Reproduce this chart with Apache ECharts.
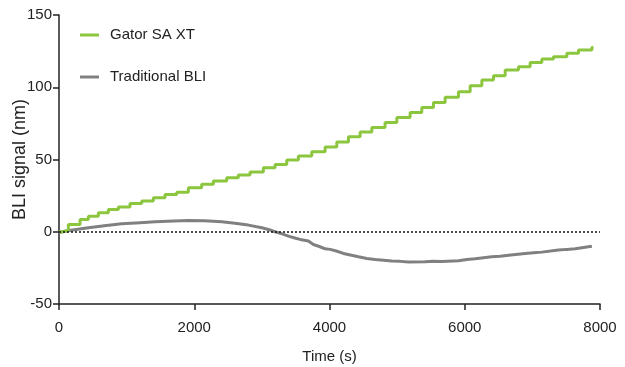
<!DOCTYPE html>
<html>
<head>
<meta charset="utf-8">
<script src="https://cdn.jsdelivr.net/npm/echarts@6/dist/echarts.min.js"></script>
<style>
  html, body { margin: 0; padding: 0; background: #fff; }
  #chart { width: 625px; height: 367px; }
</style>
</head>
<body>
<div id="chart"></div>
<script>
// values (time in s, signal in nm)
var gatorTime = [0, 40, 138, 311, 434, 582, 730, 878, 1050, 1223, 1395, 1568, 1741, 1913,
  2110, 2283, 2480, 2652, 2825, 3022, 3195, 3368, 3540, 3738, 3935,
  4108, 4280, 4453, 4626, 4822, 4996, 5192, 5365, 5537, 5710, 5907,
  6080, 6253, 6425, 6598, 6794, 6967, 7140, 7312, 7510, 7682, 7880, 7900];
var gatorSignal = [0, 0.8, 5, 8.4, 10.8, 13.1, 15.4, 17.2, 19.6, 21.2, 23.5, 25.8, 27.4, 30.4,
  32.8, 35.1, 37.4, 39.2, 41.3, 44.3, 46.6, 49.6, 52.4, 55.4, 58.6,
  62.1, 65.8, 69.1, 72.1, 75.6, 79.1, 82.5, 86, 89.5, 93, 96.8,
  101, 105, 108, 111.9, 114.2, 117.2, 119.6, 121.1, 123.5, 125.8, 127.4, 128];

var bliTime = [0, 150, 434, 700, 927, 1200, 1420, 1700, 1913, 2150, 2407, 2600, 2800, 3000, 3096, 3195,
  3300, 3392, 3500, 3565, 3688, 3762, 3850, 3935, 4009, 4100, 4206, 4428, 4551, 4675, 4921,
  5044, 5168, 5414, 5537, 5661, 5907, 6031, 6154, 6400, 6524, 6647, 6893, 7017, 7140, 7386, 7510, 7633, 7880];
var bliSignal = [-0.5, 0.8, 2.8, 4.3, 5.5, 6.3, 6.9, 7.5, 7.8, 7.6, 6.9, 5.9, 4.6, 2.8, 1.6, 0,
  -1.5, -3, -4.5, -5.3, -6.4, -8.8, -10.2, -11.8, -12.2, -13.3, -15, -17.3, -18.5, -19.2, -20.3,
  -20.5, -21, -20.8, -20.4, -20.6, -20.1, -19.2, -18.7, -17.3, -16.9, -16.2, -15, -14.5, -14.1, -12.7, -12.2, -11.8, -10];

var seriesNames = ['Gator SA XT', 'Traditional BLI'];
var seriesColors = ['#8cc63f', '#808080'];

function pairs(xs, ys) {
  var out = [];
  for (var i = 0; i < xs.length; i++) out.push([xs[i], ys[i]]);
  return out;
}

var chart = echarts.init(document.getElementById('chart'));
var font = '"Liberation Sans", Arial, sans-serif';

var option = {
  animation: false,
  backgroundColor: '#fff',
  grid: { left: 59, right: 25, top: 15, bottom: 63, containLabel: false, outerBoundsMode: 'none' },
  legend: {
    orient: 'vertical',
    left: 80,
    top: 25,
    padding: 0,
    itemGap: 22,
    itemWidth: 19,
    itemHeight: 3,
    icon: 'rect',
    textStyle: { fontFamily: font, fontSize: 15, color: '#222', lineHeight: 20, padding: [0, 0, 0, 6] },
    data: seriesNames
  },
  xAxis: {
    type: 'value',
    min: 0,
    max: 8000,
    interval: 2000,
    name: 'Time (s)',
    nameLocation: 'middle',
    nameGap: 45,
    nameMoveOverlap: false,
    nameTextStyle: { fontFamily: font, fontSize: 15, color: '#222' },
    axisLine: { show: true, onZero: false, lineStyle: { color: '#222', width: 1.5 } },
    axisTick: { show: true, length: 6, lineStyle: { color: '#222', width: 1.5 } },
    axisLabel: {
      fontFamily: font, fontSize: 15, color: '#222', margin: 16,
      formatter: function (v) { return String(v); }
    },
    splitLine: { show: false }
  },
  yAxis: {
    type: 'value',
    min: -50,
    max: 150,
    interval: 50,
    name: 'BLI signal (nm)',
    nameLocation: 'middle',
    nameGap: 30,
    nameMoveOverlap: false,
    nameTextStyle: { fontFamily: font, fontSize: 18, color: '#222' },
    axisLine: { show: true, onZero: false, lineStyle: { color: '#222', width: 1.5 } },
    axisTick: { show: true, length: 6, lineStyle: { color: '#222', width: 1.5 } },
    axisLabel: { fontFamily: font, fontSize: 15, color: '#222', margin: 7 },
    splitLine: { show: false }
  },
  series: [
    {
      name: seriesNames[0],
      type: 'line',
      step: 'end',
      data: pairs(gatorTime, gatorSignal),
      showSymbol: false,
      itemStyle: { color: seriesColors[0] },
      lineStyle: { width: 3, color: seriesColors[0] },
      z: 3
    },
    {
      name: seriesNames[1],
      type: 'line',
      data: pairs(bliTime, bliSignal),
      showSymbol: false,
      itemStyle: { color: seriesColors[1] },
      lineStyle: { width: 3, color: seriesColors[1] },
      z: 2,
      markLine: {
        silent: true,
        symbol: 'none',
        label: { show: false },
        lineStyle: { color: '#111', width: 1.5, type: [2, 2] },
        data: [{ yAxis: 0 }]
      }
    }
  ]
};
chart.setOption(option);
window.onresize = chart.resize;
</script>
</body>
</html>
